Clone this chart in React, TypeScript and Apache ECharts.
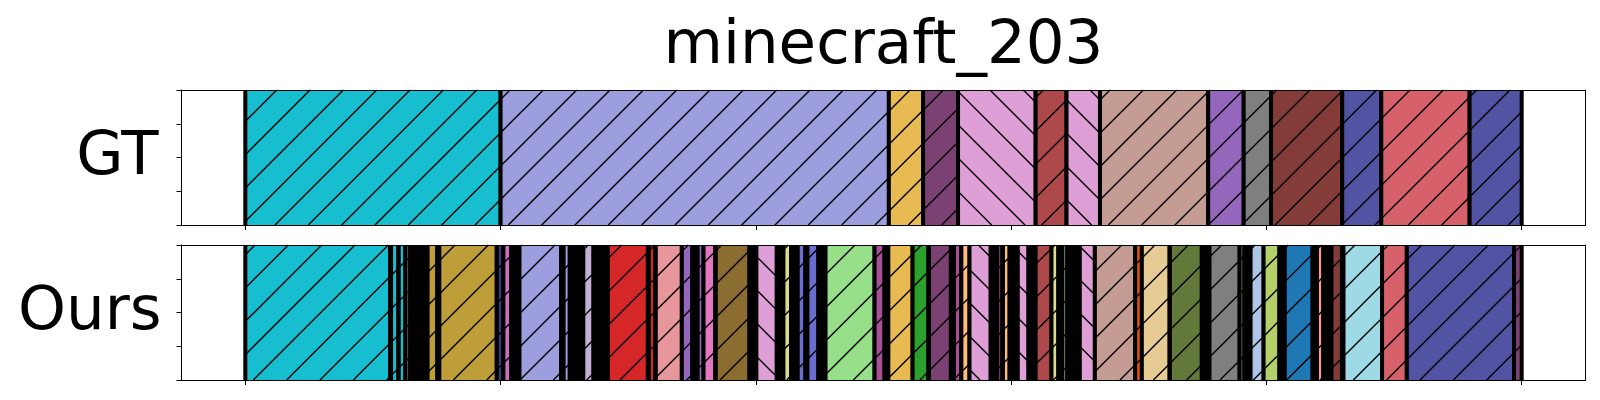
import React, { useEffect, useRef } from "react";
import * as echarts from "echarts";

// ---------- data ----------
const chartTitle = "minecraft_203";
const rowLabels = ["GT", "Ours"];
const xTickValues = [0, 100, 200, 300, 400, 500];
const yTickInterval = 0.25;

// class name -> fill colour
const classNames = [
  "gap", "cyan", "lavender", "yellow", "plum", "pink", "brick", "tan", "purple",
  "gray", "maroon", "indigo", "rose", "lightgray", "gold", "navy", "orchid",
  "lilac", "red", "salmon", "hotpink", "brown", "khaki", "periwinkle",
  "lightgreen", "violet", "green", "peach", "orange", "beige", "olive",
  "moss", "lightblue", "yellowgreen", "blue", "lightpink", "lightcyan",
];
const classColors = [
  "#000000", "#17becf", "#9c9ede", "#e7ba52", "#7b4173", "#de9ed6", "#ad494a", "#c49c94", "#9467bd",
  "#7f7f7f", "#843c39", "#5254a3", "#d6616b", "#c7c7c7", "#bd9e39", "#393b79", "#ce6dbd",
  "#c5b0d5", "#d62728", "#e7969c", "#e377c2", "#8c6d31", "#dbdb8d", "#6b6ecf",
  "#98df8a", "#a55194", "#2ca02c", "#ffbb78", "#e6550d", "#e7cb94", "#637939",
  "#8ca252", "#aec7e8", "#b5cf6b", "#1f77b4", "#ff9896", "#9edae5",
];
const backslashClasses = ["pink"];

// ground truth: boundaries and classes
const gtBounds = [0, 100, 252.1, 265.5, 279.2, 309.6, 321.7, 334.8, 377.2, 391.1, 401.8, 429.7, 445.0, 479.6, 500];
const gtClasses = ["cyan", "lavender", "yellow", "plum", "pink", "brick", "pink", "tan", "purple", "gray", "maroon", "indigo", "rose", "indigo"];

// prediction: [start, end, class]
const oursSegments: [number, number, string][] = [
  [0, 56.7, "cyan"],
  [57.1, 60.0, "cyan"],
  [60.1, 62.7, "cyan"],
  [62.8, 64.6, "lightgray"],
  [71.4, 75.2, "gold"],
  [76.0, 98.5, "gold"],
  [98.5, 101.1, "navy"],
  [101.1, 104.1, "orchid"],
  [107.4, 123.7, "lavender"],
  [124.7, 127.1, "lavender"],
  [132.4, 136.4, "lilac"],
  [142.0, 157.7, "red"],
  [158.1, 160.5, "red"],
  [160.8, 171.0, "salmon"],
  [171.0, 175.1, "purple"],
  [177.2, 179.5, "purple"],
  [179.5, 184.0, "hotpink"],
  [184.3, 197.5, "brown"],
  [200.2, 208.2, "pink"],
  [210.8, 213.8, "khaki"],
  [216.4, 219.4, "periwinkle"],
  [220.2, 224.5, "periwinkle"],
  [227.3, 246.5, "lightgreen"],
  [246.5, 250.4, "violet"],
  [251.9, 261.4, "yellow"],
  [261.4, 267.6, "green"],
  [267.8, 276.4, "plum"],
  [277.6, 280.5, "violet"],
  [280.5, 283.7, "peach"],
  [283.7, 292.0, "pink"],
  [294.5, 296.6, "plum"],
  [296.8, 299.4, "peach"],
  [302.6, 306.8, "pink"],
  [309.6, 315.8, "brick"],
  [315.8, 318.5, "khaki"],
  [320.1, 322.0, "lightgreen"],
  [326.9, 332.8, "pink"],
  [332.8, 348.6, "tan"],
  [348.6, 351.2, "orange"],
  [351.2, 362.1, "beige"],
  [362.2, 374.7, "olive"],
  [377.7, 389.5, "gray"],
  [389.5, 391.4, "moss"],
  [393.8, 398.9, "lightblue"],
  [398.9, 405.1, "yellowgreen"],
  [407.2, 418.1, "blue"],
  [419.8, 422.3, "lightpink"],
  [425.5, 429.6, "maroon"],
  [430.2, 445.3, "lightcyan"],
  [445.3, 455.0, "rose"],
  [455.0, 497.0, "indigo"],
  [497.0, 500, "plum"],
];

// ---------- helpers ----------
const HATCH = 100 / 3;
const EDGE = 4;

function hatchLines(x0: number, y0: number, x1: number, y1: number, back: boolean) {
  const out: number[][] = [];
  if (!back) {
    const cmin = x0 + y0, cmax = x1 + y1;
    for (let k = Math.ceil(cmin / HATCH); k * HATCH <= cmax; k++) {
      const c = k * HATCH;
      let ax = c - y1, ay = y1;
      if (ax < x0) { ax = x0; ay = c - x0; }
      let bx = c - y0, by = y0;
      if (bx > x1) { bx = x1; by = c - x1; }
      if (bx - ax > 0.3) out.push([ax, ay, bx, by]);
    }
  } else {
    const cmin = x0 - y1, cmax = x1 - y0;
    for (let k = Math.ceil(cmin / HATCH); k * HATCH <= cmax; k++) {
      const c = k * HATCH;
      let ax = c + y0, ay = y0;
      if (ax < x0) { ax = x0; ay = x0 - c; }
      let bx = c + y1, by = y1;
      if (bx > x1) { bx = x1; by = x1 - c; }
      if (bx - ax > 0.3) out.push([ax, ay, bx, by]);
    }
  }
  return out;
}

function renderItem(_params: any, api: any) {
  const s = api.value(0);
  const e = api.value(1);
  const ci = api.value(2);
  const pA = api.coord([s, 1]);
  const pB = api.coord([e, 0]);
  const x0 = pA[0], y0 = pA[1], x1 = pB[0], y1 = pB[1];
  const name = classNames[ci];
  const children: any[] = [
    { type: "rect", shape: { x: x0, y: y0, width: x1 - x0, height: y1 - y0 }, style: { fill: classColors[ci] } },
  ];
  if (name !== "gap") {
    const back = backslashClasses.indexOf(name) >= 0;
    for (const l of hatchLines(x0, y0, x1, y1, back)) {
      children.push({
        type: "line",
        shape: { x1: l[0], y1: l[1], x2: l[2], y2: l[3] },
        style: { stroke: "#000", lineWidth: 1.4 },
      });
    }
  }
  children.push({ type: "line", shape: { x1: x0, y1: y0, x2: x0, y2: y1 }, style: { stroke: "#000", lineWidth: EDGE } });
  children.push({ type: "line", shape: { x1: x1, y1: y0, x2: x1, y2: y1 }, style: { stroke: "#000", lineWidth: EDGE } });
  return { type: "group", children };
}

function buildGt() {
  const d: number[][] = [];
  for (let i = 0; i < gtClasses.length; i++) {
    d.push([gtBounds[i], gtBounds[i + 1], classNames.indexOf(gtClasses[i])]);
  }
  return d;
}

function buildOurs() {
  const d: number[][] = [];
  let prev = 0;
  for (const [s, e, c] of oursSegments) {
    if (s > prev + 0.01) d.push([prev, s, 0]);
    d.push([s, e, classNames.indexOf(c)]);
    prev = e;
  }
  return d;
}

export default function App() {
  const ref = useRef<HTMLDivElement>(null);
  useEffect(() => {
    if (!ref.current) return;
    const chart = echarts.init(ref.current, undefined, { renderer: "svg" });
    const grids = [
      { left: 181.5, width: 1404, top: 90, height: 135, show: false },
      { left: 181.5, width: 1404, top: 245, height: 135, show: false },
    ];
    const xAxes: any[] = [];
    const yAxes: any[] = [];
    const line = { show: true, onZero: false, lineStyle: { color: "#000", width: 1 } };
    for (let g = 0; g < 2; g++) {
      xAxes.push({
        gridIndex: g, type: "value", min: -25, max: 525, position: "bottom", z: 10,
        axisLine: line,
        axisTick: { show: true, length: 5, customValues: xTickValues, lineStyle: { color: "#000", width: 1 } },
        axisLabel: { show: false }, splitLine: { show: false },
      });
      xAxes.push({
        gridIndex: g, type: "value", min: -25, max: 525, position: "top", z: 10,
        axisLine: line, axisTick: { show: false }, axisLabel: { show: false }, splitLine: { show: false },
      });
      yAxes.push({
        gridIndex: g, type: "value", min: 0, max: 1, interval: yTickInterval, position: "left", z: 10,
        axisLine: line,
        axisTick: { show: true, length: 5, lineStyle: { color: "#000", width: 1 } },
        axisLabel: { show: false }, splitLine: { show: false },
      });
      yAxes.push({
        gridIndex: g, type: "value", min: 0, max: 1, interval: yTickInterval, position: "right", z: 10,
        axisLine: line, axisTick: { show: false }, axisLabel: { show: false }, splitLine: { show: false },
      });
    }
    const font = "'DejaVu Sans', sans-serif";
    chart.setOption({
      animation: false,
      grid: grids,
      xAxis: xAxes,
      yAxis: yAxes,
      graphic: [
        { type: "text", x: 883.5, y: 41.6, style: { text: chartTitle, font: `61px ${font}`, fill: "#000", align: "center", verticalAlign: "middle" } },
        { type: "text", x: 158.5, y: 152.9, style: { text: rowLabels[0], font: `61px ${font}`, fill: "#000", align: "right", verticalAlign: "middle" } },
        { type: "text", x: 161.6, y: 307.9, style: { text: rowLabels[1], font: `61px ${font}`, fill: "#000", align: "right", verticalAlign: "middle" } },
      ],
      series: [
        { type: "custom", xAxisIndex: 0, yAxisIndex: 0, renderItem, data: buildGt(), encode: { x: [0, 1] }, clip: false, silent: true, z: 2 },
        { type: "custom", xAxisIndex: 2, yAxisIndex: 2, renderItem, data: buildOurs(), encode: { x: [0, 1] }, clip: false, silent: true, z: 2 },
      ],
    });
    return () => chart.dispose();
  }, []);
  return <div ref={ref} style={{ position: "absolute", left: 0, top: 0, width: 1600, height: 400 }} />;
}
